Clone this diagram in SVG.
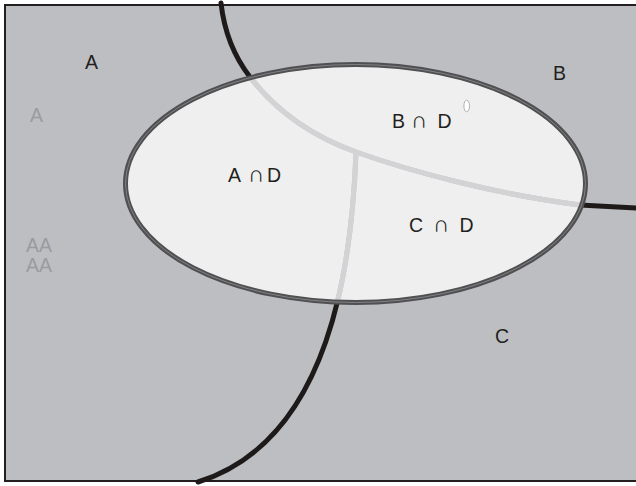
<svg xmlns="http://www.w3.org/2000/svg" width="636" height="486" viewBox="0 0 636 486">
  <style>
    .lbl { font-family: "Liberation Sans", Arial, sans-serif; font-size: 19.5px; fill: #231f20; }
    .cap { font-size: 23px; }
    .faint { font-family: "Liberation Sans", Arial, sans-serif; font-size: 19.5px; fill: #9b9b9e; }
    .edge { fill: none; stroke-width: 5; stroke-linecap: round; stroke-linejoin: round; }
  </style>
  <defs>
    <clipPath id="insideD">
      <ellipse cx="355.5" cy="183.5" rx="230" ry="119"/>
    </clipPath>
    <mask id="outsideD" maskUnits="userSpaceOnUse" x="0" y="0" width="636" height="486">
      <rect width="636" height="486" fill="#ffffff"/>
      <ellipse cx="355.5" cy="183.5" rx="230" ry="119" fill="#000000"/>
    </mask>
    <path id="splitBC" d="M221,3 C224,30 233,55 250,77 S300,132 356,152 S500,195 580,205 L636,208"/>
    <path id="splitAC" d="M356,152 C352,260 332,440 198,482"/>
  </defs>

  <rect width="636" height="486" fill="#ffffff"/>

  <!-- universe -->
  <g id="universe">
    <rect x="5" y="5" width="640" height="476" fill="#bdbec2" stroke="#231f20" stroke-width="2"/>
  </g>

  <!-- set D -->
  <g id="setD">
    <ellipse cx="355.5" cy="183.5" rx="230" ry="119" fill="#efefef"/>
  </g>

  <!-- region boundaries: dark outside D, pale inside D -->
  <g id="connectors">
    <g mask="url(#outsideD)">
      <use href="#splitBC" class="edge" stroke="#1e1a1a"/>
      <use href="#splitAC" class="edge" stroke="#1e1a1a"/>
    </g>
    <g clip-path="url(#insideD)">
      <use href="#splitBC" class="edge" stroke="#c4c4c6" stroke-width="5.5"/>
      <use href="#splitAC" class="edge" stroke="#c4c4c6" stroke-width="5.5"/>
      <use href="#splitBC" class="edge" stroke="#d3d3d5" stroke-width="4"/>
      <use href="#splitAC" class="edge" stroke="#d3d3d5" stroke-width="4"/>
    </g>
  </g>

  <!-- outline of D drawn over the boundaries -->
  <g id="outlineD">
    <ellipse cx="355.5" cy="183.5" rx="230" ry="119" fill="none" stroke="#505052" stroke-width="5"/>
    <ellipse cx="355.5" cy="183.5" rx="230" ry="119" fill="none" stroke="#8e8e90" stroke-width="0.8"/>
  </g>

  <g id="dot">
    <ellipse cx="466.7" cy="106" rx="2.8" ry="5.8" fill="#ffffff" stroke="#a0a0a0" stroke-width="0.8"/>
  </g>

  <g id="labels">
    <text class="lbl" x="85" y="69">A</text>
    <text class="lbl" x="553" y="80">B</text>
    <text class="lbl" x="495" y="343">C</text>
    <text class="lbl" y="182"><tspan x="228">A </tspan><tspan class="cap" x="248">∩</tspan><tspan x="267">D</tspan></text>
    <text class="lbl" y="128"><tspan x="392">B </tspan><tspan class="cap" x="411">∩</tspan><tspan x="432"> D</tspan></text>
    <text class="lbl" y="232"><tspan x="409">C </tspan><tspan class="cap" x="433">∩</tspan><tspan x="454"> D</tspan></text>
    <text class="faint" x="30" y="122">A</text>
    <text class="faint" x="26" y="252">AA</text>
    <text class="faint" x="26" y="272">AA</text>
  </g>
</svg>
